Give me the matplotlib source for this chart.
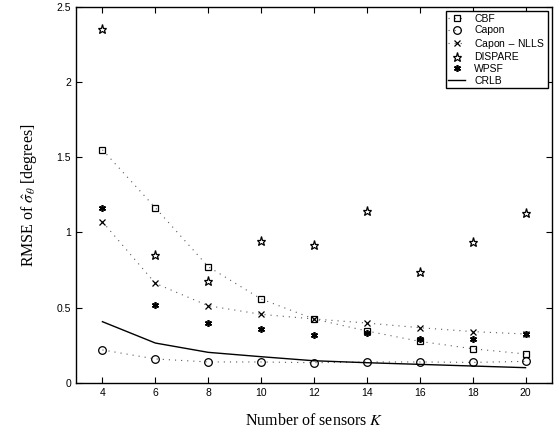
import numpy as np
import matplotlib.pyplot as plt

# данные
K = [4, 6, 8, 10, 12, 14, 16, 18, 20]
cbf = [1.55, 1.164, 0.772, 0.557, 0.424, 0.344, 0.275, 0.226, 0.191]
capon = [0.218, 0.158, 0.138, 0.138, 0.133, 0.138, 0.138, 0.135, 0.142]
capon_nlls = [1.071, 0.661, 0.512, 0.455, 0.424, 0.397, 0.366, 0.340, 0.324]
dispare = [2.353, 0.848, 0.677, 0.943, 0.914, 1.144, 0.735, 0.938, 1.127]
wpsf = [1.164, 0.517, 0.399, 0.357, 0.319, 0.329, 0.289, 0.291, 0.324]
crlb = [0.406, 0.264, 0.202, 0.173, 0.146, 0.133, 0.122, 0.111, 0.100]

plt.rcParams['mathtext.fontset'] = 'stix'

fig = plt.figure(figsize=(5.6, 4.34), dpi=100)
ax = fig.add_axes([0.1357, 0.1182, 0.85, 0.8657])

dot = dict(color='0.35', linestyle=(0, (1, 4.5)), linewidth=0.8, mfc='none', mec='black')
ax.plot(K, cbf, marker='s', markersize=4, mew=0.9, label='CBF', **dot)
ax.plot(K, capon, marker='o', markersize=5.5, mew=0.9, label='Capon', **dot)
ax.plot(K, capon_nlls, marker='x', markersize=4, mew=0.9, label='Capon $-$ NLLS', **dot)
ax.plot(K, dispare, linestyle='none', marker='*', markersize=6.5, mfc='none', mec='black',
        mew=0.9, label='DISPARE')
ax.plot(K, wpsf, linestyle='none', marker=(6, 2, 0), markersize=5, color='black',
        mew=1.2, label='WPSF')
ax.plot(K, crlb, color='black', linewidth=1.0, label='CRLB')

ax.set_xlim(3, 21)
ax.set_ylim(0, 2.5)
ax.set_xticks(K)
ax.set_yticks([0, 0.5, 1, 1.5, 2, 2.5])
ax.set_yticklabels(['0', '0.5', '1', '1.5', '2', '2.5'])
ax.tick_params(direction='in', top=True, right=True, labelsize=7.5, length=4, width=0.8)
for lab in ax.get_xticklabels() + ax.get_yticklabels():
    lab.set_family('Liberation Sans')
for s in ax.spines.values():
    s.set_linewidth(1.0)

ax.set_xlabel('Number of sensors $K$', family='Liberation Serif', fontsize=11.5, labelpad=11)
ax.set_ylabel(r'RMSE of $\hat{\sigma}_\theta$ [degrees]', family='Liberation Serif',
              fontsize=11.5, labelpad=13)

leg = ax.legend(loc='upper right', prop={'family': 'Liberation Sans', 'size': 7.5},
                fancybox=False, edgecolor='black', framealpha=1, borderpad=0.25,
                labelspacing=0.15, handlelength=1.6, handletextpad=0.9,
                borderaxespad=0.4)
leg.get_frame().set_linewidth(1.0)

fig.savefig('out.png', dpi=100)
